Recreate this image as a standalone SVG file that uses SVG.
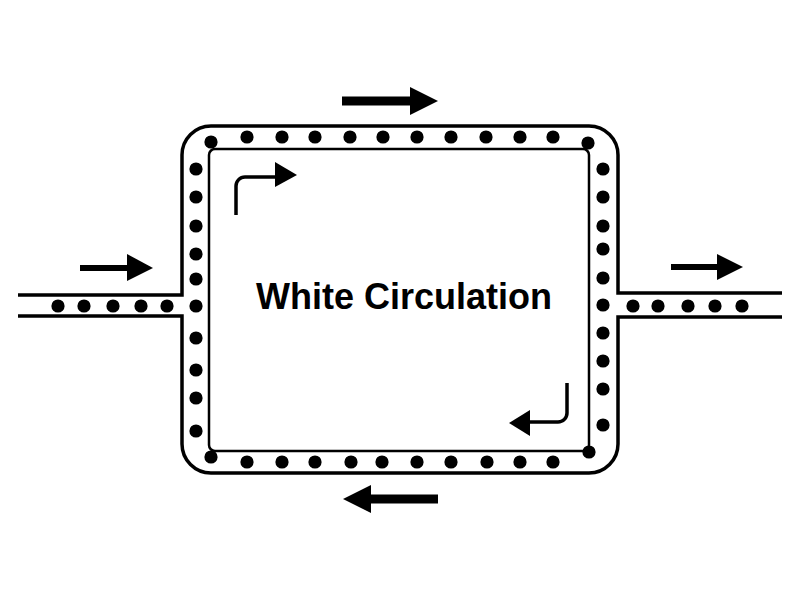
<svg xmlns="http://www.w3.org/2000/svg" width="800" height="600" viewBox="0 0 800 600">
<defs>
<style>
.wall{fill:none;stroke:#000;stroke-width:3.5}
.inner{fill:none;stroke:#000;stroke-width:2.5}
.bend{fill:none;stroke:#000;stroke-width:3.5}
.dot{fill:#000}
.shaft{stroke:#000;fill:none}
.head{fill:#000}
.label{font-family:"Liberation Sans",Arial,sans-serif;font-weight:bold;font-size:36px;fill:#000}
</style>
<g id="d"><circle class="dot" r="6.6"/></g>
</defs>
<rect width="800" height="600" fill="#fff"/>
<g id="pipe-structure">
<path class="wall" d="M18,295 H182 V155 A29,29 0 0 1 211,126 H589 A29,29 0 0 1 618,155 V293 H782"/>
<path class="wall" d="M18,316 H182 V444 A29,29 0 0 0 211,473 H589 A29,29 0 0 0 618,444 V317 H782"/>
<rect class="inner" x="209" y="149" width="380" height="302" rx="6"/>
</g>
<g id="particles">
<use href="#d" x="58" y="306"/><use href="#d" x="84" y="306"/><use href="#d" x="113" y="306"/><use href="#d" x="141" y="306"/><use href="#d" x="167" y="306"/>
<use href="#d" x="633" y="306"/><use href="#d" x="658" y="306"/><use href="#d" x="688" y="306"/><use href="#d" x="715" y="306"/><use href="#d" x="742" y="306"/>
<use href="#d" x="211" y="142"/><use href="#d" x="588" y="143"/><use href="#d" x="211" y="457"/><use href="#d" x="589" y="452"/>
<use href="#d" x="247" y="137"/><use href="#d" x="282" y="137"/><use href="#d" x="315" y="137"/><use href="#d" x="350" y="137"/><use href="#d" x="383" y="137"/><use href="#d" x="417" y="137"/><use href="#d" x="451" y="137"/><use href="#d" x="486" y="137"/><use href="#d" x="520" y="137"/><use href="#d" x="553" y="137"/>
<use href="#d" x="247" y="462"/><use href="#d" x="282" y="462"/><use href="#d" x="315" y="462"/><use href="#d" x="351" y="462"/><use href="#d" x="382" y="462"/><use href="#d" x="417" y="462"/><use href="#d" x="451" y="462"/><use href="#d" x="487" y="462"/><use href="#d" x="520" y="462"/><use href="#d" x="553" y="462"/>
<use href="#d" x="196" y="169"/><use href="#d" x="196" y="197"/><use href="#d" x="196" y="226"/><use href="#d" x="196" y="254"/><use href="#d" x="196" y="279"/><use href="#d" x="196" y="306"/><use href="#d" x="196" y="338"/><use href="#d" x="196" y="370"/><use href="#d" x="196" y="398"/><use href="#d" x="196" y="431"/>
<use href="#d" x="603" y="169"/><use href="#d" x="603" y="197"/><use href="#d" x="603" y="226"/><use href="#d" x="603" y="249"/><use href="#d" x="603" y="278"/><use href="#d" x="603" y="305"/><use href="#d" x="603" y="333"/><use href="#d" x="603" y="361"/><use href="#d" x="603" y="389"/><use href="#d" x="603" y="425"/>
</g>
<g id="connectors">
<line class="shaft" x1="342" y1="101" x2="412" y2="101" stroke-width="9"/>
<polygon class="head" points="410,87 438,101 410,115"/>
<line class="shaft" x1="438" y1="499" x2="368" y2="499" stroke-width="9"/>
<polygon class="head" points="371,485 343,499 371,513"/>
<line class="shaft" x1="80" y1="268" x2="129" y2="268" stroke-width="6"/>
<polygon class="head" points="127,254 153,268 127,281"/>
<line class="shaft" x1="671" y1="267" x2="719" y2="267" stroke-width="6"/>
<polygon class="head" points="717,254 743,267 717,280"/>
<path class="bend" d="M236,215 V186 A9,9 0 0 1 245,177 H277"/>
<polygon class="head" points="275,162 297,175 275,187"/>
<path class="bend" d="M567,383 V413 A9,9 0 0 1 558,422 H528"/>
<polygon class="head" points="530,410 509,423 530,436"/>
</g>
<g id="label">
<text class="label" x="404" y="309" text-anchor="middle">White Circulation</text>
</g>
</svg>
